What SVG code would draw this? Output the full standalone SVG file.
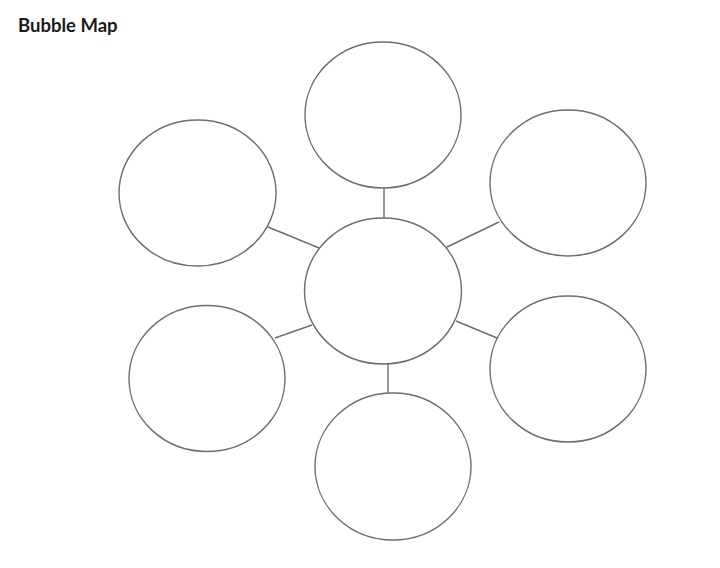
<svg xmlns="http://www.w3.org/2000/svg" width="720" height="568" viewBox="0 0 720 568">
<style>
.b{fill:#fff;stroke:#6e6e6e;stroke-width:1.4}
.c{stroke:#6e6e6e;stroke-width:1.4;fill:none}
.t{font-family:"Lato","Liberation Sans",sans-serif;font-weight:bold;font-size:18.5px;fill:#1a1a1a}
</style>
<rect width="720" height="568" fill="#fff"/>
<text class="t" x="18" y="32">Bubble Map</text>
<g id="connectors">
<line class="c" x1="384" y1="188" x2="384" y2="218"/>
<line class="c" x1="268" y1="227" x2="319" y2="248"/>
<line class="c" x1="447" y1="247" x2="499" y2="222"/>
<line class="c" x1="275" y1="338" x2="312" y2="325"/>
<line class="c" x1="456" y1="321" x2="497" y2="338"/>
<line class="c" x1="388" y1="364" x2="388" y2="393"/>
</g>
<g id="center"><ellipse class="b" cx="383" cy="291" rx="78.5" ry="73"/></g>
<g id="top"><ellipse class="b" cx="383" cy="115" rx="78" ry="73"/></g>
<g id="upper-left"><ellipse class="b" cx="197.5" cy="193" rx="78.5" ry="73"/></g>
<g id="upper-right"><ellipse class="b" cx="568" cy="183" rx="78" ry="73"/></g>
<g id="lower-left"><ellipse class="b" cx="207" cy="378.5" rx="78" ry="73"/></g>
<g id="lower-right"><ellipse class="b" cx="568" cy="369" rx="78" ry="73"/></g>
<g id="bottom"><ellipse class="b" cx="393" cy="466.5" rx="78" ry="73.5"/></g>
</svg>
